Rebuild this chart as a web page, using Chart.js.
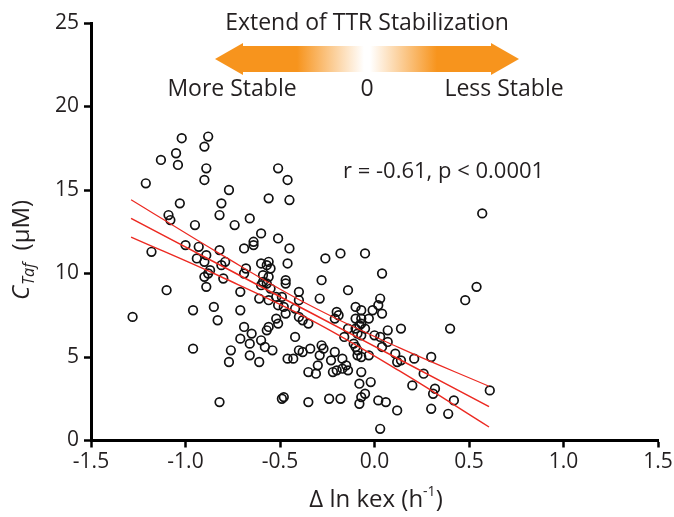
<!DOCTYPE html>
<html>
<head>
<meta charset="utf-8">
<title>TTR stabilization vs tafamidis concentration</title>
<script src="https://cdn.jsdelivr.net/npm/chart.js@4.4.0/dist/chart.umd.min.js"></script>
<style>
    html, body { margin: 0; padding: 0; background: #fff; }
    #wrap { width: 674px; height: 517px; }
</style>
</head>
<body>
<div id="wrap"><canvas id="scatterChart" width="674" height="517"></canvas></div>
<script>
// Δ ln kex (h-1) per subject
var deltaLnKex = [
    -1.02, -0.88, -0.90, -1.05, -1.13, -1.04, -0.89, -0.90, -1.21, -0.77,
    -0.56, -1.03, -0.81, -0.82, -1.09, -1.08, -0.66, -0.74, -0.95, -0.60,
    -0.51, -0.64, -0.64, -0.69, -1.00, -0.93, -0.82, -1.18, -0.94, -0.89,
    -0.90, -0.81, -0.79, -0.87, -0.88, -0.68, -0.69, -0.60, -0.56, -0.57,
    -0.55, -0.59, -0.56, -0.80, -0.90, -0.51, -0.46, -0.45, -0.45, -0.46,
    -0.26, -0.18, -0.05, 0.04, -0.28, -0.47, -0.47, 0.57, -0.89, -1.10,
    -0.71, -1.28, -0.96, -0.85, -0.83, -0.71, -0.69, -0.65, -0.71, -0.66,
    -0.76, -0.77, -0.66, -0.61, -0.96, -0.82, -0.60, -0.58, -0.54, -0.57,
    -0.56, -0.61, -0.59, -0.57, -0.55, -0.60, -0.56, -0.52, -0.51, -0.48,
    -0.47, -0.52, -0.51, -0.49, -0.40, -0.29, -0.40, -0.42, -0.40, -0.38,
    -0.35, -0.20, -0.19, -0.21, -0.14, -0.10, -0.07, -0.01, 0.02, 0.03,
    0.04, -0.10, -0.07, -0.03, -0.07, -0.08, -0.05, -0.14, -0.10, -0.09,
    -0.16, -0.07, 0.00, 0.03, 0.07, 0.14, 0.07, 0.04, -0.11, -0.10,
    -0.09, -0.09, -0.07, -0.03, -0.42, -0.46, -0.43, -0.40, -0.38, -0.34,
    -0.28, -0.27, -0.29, -0.21, -0.23, -0.17, -0.15, -0.14, -0.17, -0.20,
    -0.22, -0.30, -0.31, -0.35, -0.07, -0.08, -0.02, 0.11, 0.12, 0.14,
    0.21, 0.26, 0.20, 0.30, 0.32, 0.31, -0.49, -0.48, -0.35, -0.24,
    -0.18, -0.07, -0.05, -0.08, 0.02, 0.06, 0.12, 0.30, 0.03, 0.54,
    0.48, 0.40, 0.61, 0.42, 0.39
];
// C_Taf (μM) per subject
var cTaf = [
    18.1, 18.2, 17.6, 17.2, 16.8, 16.5, 16.3, 15.6, 15.4, 15.0,
    14.5, 14.2, 14.2, 13.5, 13.5, 13.2, 13.3, 12.9, 12.9, 12.4,
    12.1, 11.9, 11.7, 11.5, 11.7, 11.6, 11.4, 11.3, 10.9, 11.1,
    10.7, 10.5, 10.7, 10.2, 10.0, 10.3, 10.0, 10.6, 10.7, 10.5,
    10.3, 9.9, 9.8, 9.7, 9.8, 16.3, 15.6, 14.4, 11.5, 10.6,
    10.9, 11.2, 11.2, 10.0, 9.6, 9.6, 9.4, 13.6, 9.2, 9.0,
    8.9, 7.4, 7.8, 8.0, 7.2, 7.8, 6.8, 6.4, 6.1, 5.8,
    5.4, 4.7, 5.1, 4.7, 5.5, 2.3, 6.0, 5.6, 5.4, 6.6,
    6.8, 8.5, 9.5, 9.4, 9.1, 9.3, 8.4, 8.6, 8.1, 8.0,
    7.6, 7.3, 7.0, 8.6, 8.9, 8.5, 8.4, 7.9, 7.4, 7.2,
    7.0, 7.7, 7.5, 7.3, 9.0, 8.0, 7.8, 7.8, 8.1, 8.5,
    7.6, 7.3, 7.3, 7.3, 7.0, 6.9, 6.7, 6.7, 6.7, 6.4,
    6.2, 6.3, 6.3, 6.2, 6.6, 6.7, 5.9, 5.6, 5.8, 5.6,
    5.4, 5.1, 5.0, 5.1, 6.2, 4.9, 4.9, 5.4, 5.3, 5.5,
    5.7, 5.5, 5.1, 5.3, 4.8, 4.9, 4.5, 4.2, 4.3, 4.2,
    4.1, 4.5, 4.0, 4.1, 4.1, 3.4, 3.5, 5.2, 4.7, 4.8,
    4.9, 4.0, 3.3, 5.0, 3.1, 2.8, 2.5, 2.6, 2.3, 2.5,
    2.5, 2.6, 2.8, 2.2, 2.4, 2.3, 1.8, 1.9, 0.7, 9.2,
    8.4, 6.7, 3.0, 2.4, 1.6
];

// linear regression and its 95% confidence band
var fitX = [-1.288, -0.815, -0.34, 0.13, 0.606];
var fitY = [13.30, 10.49, 7.66, 4.87, 2.03];
var bandUpperY = [14.42, 11.16, 8.08, 5.56, 3.25];
var bandLowerY = [12.18, 9.82, 7.24, 4.18, 0.81];

var xTicks = [-1.5, -1.0, -0.5, 0.0, 0.5, 1.0, 1.5];
var yTicks = [0, 5, 10, 15, 20, 25];

var textColor = '#231f20';
var fitColor = '#ec2a22';
var arrowOrange = '#f7941d';

function toXY(xs, ys) {
    return xs.map(function(v, i) { return { x: v, y: ys[i] }; });
}

// header arrow, axis titles and the r / p note
var annotations = {
    id: 'annotations',
    afterDraw: function(chart) {
        var ctx = chart.ctx;
        ctx.save();
        ctx.fillStyle = textColor;
        ctx.textAlign = 'center';
        ctx.textBaseline = 'alphabetic';
        ctx.font = '23px "Open Sans"';
        ctx.fillText('Extend of TTR Stabilization', 367, 30);

        var g = ctx.createLinearGradient(215, 0, 519, 0);
        g.addColorStop(0, arrowOrange);
        g.addColorStop(0.27, arrowOrange);
        g.addColorStop(0.49, '#ffffff');
        g.addColorStop(0.51, '#ffffff');
        g.addColorStop(0.73, arrowOrange);
        g.addColorStop(1, arrowOrange);
        var cy = 59;
        ctx.beginPath();
        ctx.moveTo(215, cy);
        ctx.lineTo(243, cy - 16);
        ctx.lineTo(243, cy - 13);
        ctx.lineTo(491, cy - 13);
        ctx.lineTo(491, cy - 16);
        ctx.lineTo(519, cy);
        ctx.lineTo(491, cy + 16);
        ctx.lineTo(491, cy + 13);
        ctx.lineTo(243, cy + 13);
        ctx.lineTo(243, cy + 16);
        ctx.closePath();
        ctx.fillStyle = g;
        ctx.fill();

        ctx.fillStyle = textColor;
        ctx.fillText('More Stable', 232, 96);
        ctx.fillText('0', 367, 96);
        ctx.fillText('Less Stable', 504, 96);

        ctx.textAlign = 'left';
        ctx.font = '22px "Open Sans"';
        ctx.fillText('r = -0.61, p < 0.0001', 343, 178);

        // x title: Δ ln kex (h-1)
        ctx.font = '24px "Open Sans"';
        var a = 'Δ ln kex (h', b = '-1', c = ')';
        var wa = ctx.measureText(a).width, wc = ctx.measureText(c).width;
        ctx.font = '14px "Open Sans"';
        var wb = ctx.measureText(b).width;
        var x0 = 376 - (wa + wb + wc) / 2;
        ctx.font = '24px "Open Sans"';
        ctx.fillText(a, x0, 507);
        ctx.font = '14px "Open Sans"';
        ctx.fillText(b, x0 + wa, 496);
        ctx.font = '24px "Open Sans"';
        ctx.fillText(c, x0 + wa + wb, 507);

        // y title: C_Taf (μM), rotated
        ctx.translate(29, 300);
        ctx.rotate(-Math.PI / 2);
        ctx.font = 'italic 24px "Open Sans"';
        ctx.fillText('C', 0, 0);
        var w = ctx.measureText('C').width + 1;
        ctx.font = 'italic 16px "Open Sans"';
        ctx.fillText('Taf', w, 5);
        w += ctx.measureText('Taf').width;
        ctx.font = '24px "Open Sans"';
        ctx.fillText('  (μM)', w, 0);
        ctx.restore();
    }
};

Chart.defaults.font.family = '"Open Sans", sans-serif';
Chart.defaults.color = textColor;

var lineStyle = { showLine: true, borderColor: fitColor, pointRadius: 0, tension: 0.4 };

var ctx = document.getElementById('scatterChart').getContext('2d');
new Chart(ctx, {
    type: 'scatter',
    data: {
        datasets: [
            Object.assign({ data: toXY(fitX, fitY), borderWidth: 1.6 }, lineStyle),
            Object.assign({ data: toXY(fitX, bandUpperY), borderWidth: 1.2 }, lineStyle),
            Object.assign({ data: toXY(fitX, bandLowerY), borderWidth: 1.4 }, lineStyle),
            {
                data: toXY(deltaLnKex, cTaf),
                pointRadius: 4.3,
                pointBorderWidth: 1.7,
                borderColor: '#111',
                backgroundColor: 'rgba(0,0,0,0)',
                pointBackgroundColor: 'rgba(0,0,0,0)',
                pointBorderColor: '#111'
            }
        ]
    },
    options: {
        responsive: false,
        animation: false,
        devicePixelRatio: 1,
        layout: { padding: { left: 0, right: 16, top: 23, bottom: 0 } },
        plugins: { legend: { display: false }, tooltip: { enabled: false } },
        scales: {
            x: {
                type: 'linear',
                min: -1.5,
                max: 1.5,
                afterBuildTicks: function(scale) {
                    scale.ticks = xTicks.map(function(v) { return { value: v }; });
                },
                afterFit: function(scale) {
                    scale.height = 76.5;
                    scale.paddingRight = 16;
                },
                ticks: {
                    font: { size: 21 },
                    color: textColor,
                    padding: 2,
                    maxRotation: 0,
                    callback: function(v) { return v.toFixed(1); }
                },
                grid: { drawOnChartArea: false, drawTicks: true, tickLength: 7, tickWidth: 2.5, tickColor: '#000' },
                border: { display: true, width: 3, color: '#000' }
            },
            y: {
                type: 'linear',
                min: 0,
                max: 25,
                afterBuildTicks: function(scale) {
                    scale.ticks = yTicks.map(function(v) { return { value: v }; });
                },
                afterFit: function(scale) {
                    scale.width = 91;
                },
                ticks: {
                    font: { size: 21 },
                    color: textColor,
                    padding: 5
                },
                grid: { drawOnChartArea: false, drawTicks: true, tickLength: 7, tickWidth: 2.5, tickColor: '#000' },
                border: { display: true, width: 3, color: '#000' }
            }
        }
    },
    plugins: [annotations]
});
</script>
</body>
</html>
